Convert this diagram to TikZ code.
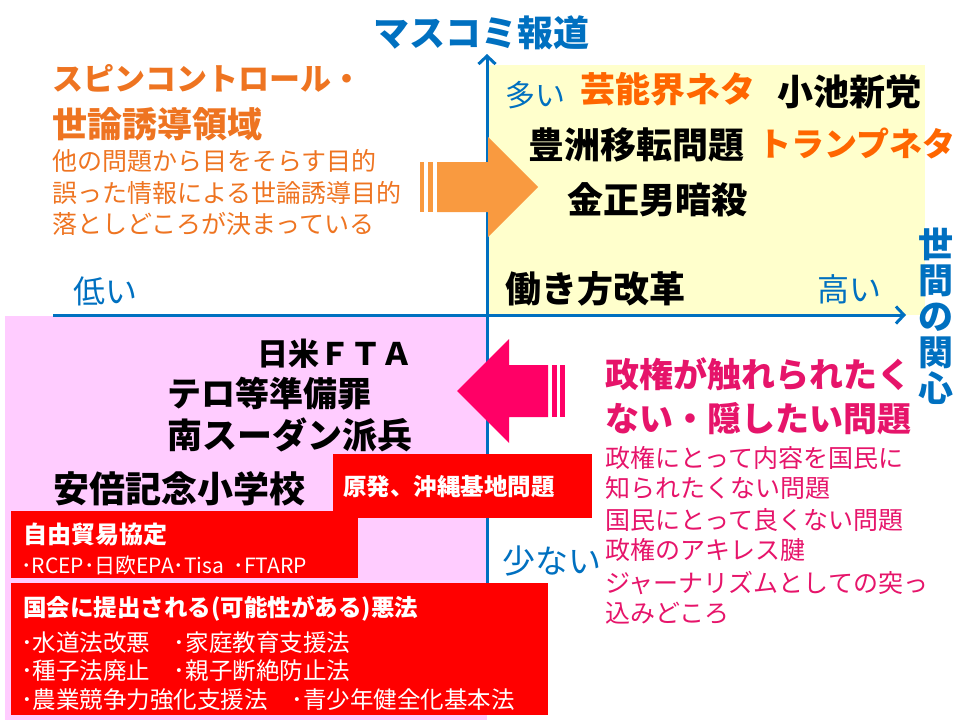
\documentclass[tikz,border=0pt]{standalone}
\usepackage{fontspec}
\setmainfont{Noto Sans CJK JP}
\usepackage{tikz}
\usetikzlibrary{arrows.meta,positioning}
\definecolor{mapBlue}{HTML}{0070C0}
\definecolor{quadYellow}{HTML}{FFFFCC}
\definecolor{quadPink}{HTML}{FFCCFF}
\definecolor{spinText}{HTML}{EE7421}
\definecolor{spinArrow}{HTML}{F99A40}
\definecolor{popOrange}{HTML}{FF6600}
\definecolor{hideText}{HTML}{E6146A}
\definecolor{hideArrow}{HTML}{FF0066}
\definecolor{boxRed}{HTML}{FF0000}
\newcommand{\jpsz}[1]{\fontsize{#1}{#1}\selectfont}
\tikzset{
  txt/.style={inner sep=0pt,anchor=west},
  axisline/.style={mapBlue,line width=3pt},
}

\begin{document}
\begin{tikzpicture}[x=1pt,y=-1pt,>={Straight Barb[length=8pt,width=17pt]}]
  \path[use as bounding box] (0,0) rectangle (960,720);

  % quadrants
  \fill[quadYellow] (488,65) rectangle (925,315);
  \fill[quadPink] (5,316) rectangle (487,720);

  % axes
  \coordinate (xlow) at (53,315);
  \coordinate (xhigh) at (906,315);
  \coordinate (ytop) at (487,54);
  \coordinate (ybot) at (487,712);
  \draw[axisline,->] (xlow) -- (xhigh);
  \draw[axisline,->] (ybot) -- (ytop);

  % block arrows
  \fill[spinArrow] (437,162) -- (488,162) -- (488,137) -- (538,187) -- (488,237) -- (488,212) -- (437,212) -- cycle;
  \fill[spinArrow] (420,162) rectangle (424,212);
  \fill[spinArrow] (428,162) rectangle (433,212);
  \fill[hideArrow] (548,365) -- (509,365) -- (509,339) -- (457,391) -- (509,443) -- (509,417) -- (548,417) -- cycle;
  \fill[hideArrow] (552,365) rectangle (557,417);
  \fill[hideArrow] (560,365) rectangle (565,417);

  % red boxes
  \fill[boxRed] (333,454) rectangle (592,518);
  \fill[boxRed] (11,511) rectangle (358,578);
  \fill[boxRed] (11,583) rectangle (548,715);

  % axis labels
  \node[txt,anchor=center,font=\bfseries\jpsz{36},text=mapBlue] (media) at (481,33) {マスコミ報道};
  \node[inner sep=0pt,align=center,font=\bfseries\fontsize{35}{36}\selectfont,text=mapBlue] (concern) at (936,316) {世\\間\\の\\関\\心};
  \node[txt,font=\jpsz{30},text=mapBlue] (many) at (505,95) {多い};
  \node[txt,font=\jpsz{33},text=mapBlue] (few) at (502,561) {少ない};
  \node[txt,font=\jpsz{32},text=mapBlue] (high) at (817,289) {高い};
  \node[txt,font=\jpsz{32},text=mapBlue] (low) at (73,291) {低い};

  % top left
  \node[txt,font=\bfseries\jpsz{31},text=spinText] (spin1) at (52,78) {スピンコントロール・};
  \node[txt,font=\bfseries\jpsz{35},text=spinText] (spin2) at (52,124) {世論誘導領域};
  \node[txt,font=\jpsz{25},text=spinText] (spin3) at (52,161) {他の問題から目をそらす目的};
  \node[txt,font=\jpsz{25},text=spinText] (spin4) at (52,193) {誤った情報による世論誘導目的};
  \node[txt,font=\jpsz{25},text=spinText] (spin5) at (52,224) {落としどころが決まっている};

  % top right
  \node[txt,font=\bfseries\jpsz{35},text=popOrange] (geino) at (580,89) {芸能界ネタ};
  \node[txt,font=\bfseries\jpsz{36}] (koike) at (777,92) {小池新党};
  \node[txt,font=\bfseries\jpsz{36}] (toyosu) at (528,145) {豊洲移転問題};
  \node[txt,font=\bfseries\jpsz{33},text=popOrange] (trump) at (758,143) {トランプネタ};
  \node[txt,font=\bfseries\jpsz{36}] (kim) at (567,200) {金正男暗殺};
  \node[txt,font=\bfseries\jpsz{36}] (work) at (505,289) {働き方改革};

  % bottom left
  \node[txt,anchor=east,font=\bfseries\jpsz{31}] (fta) at (413,354) {日米ＦＴＡ};
  \node[txt,font=\bfseries\jpsz{34}] (terror) at (167,394) {テロ等準備罪};
  \node[txt,font=\bfseries\jpsz{35}] (sudan) at (167,435) {南スーダン派兵};
  \node[txt,font=\bfseries\jpsz{36}] (abe) at (53,489) {安倍記念小学校};

  \node[txt,font=\bfseries\jpsz{23.5},text=white] (nuke) at (343,487) {原発、沖縄基地問題};
  \node[txt,font=\bfseries\jpsz{24},text=white] (trade) at (23,534) {自由貿易協定};
  \node[txt,font=\jpsz{21},text=white] (tradelist) at (21,565) {･RCEP･日欧EPA･Tisa \ ･FTARP};
  \node[txt,font=\bfseries\jpsz{23.5},text=white] (laws) at (23,609) {国会に提出される(可能性がある)悪法};
  \node[txt,font=\jpsz{23.5},text=white] (law1) at (21,643) {･水道法改悪　･家庭教育支援法};
  \node[txt,font=\jpsz{23.5},text=white] (law2) at (21,671) {･種子法廃止　･親子断絶防止法};
  \node[txt,font=\jpsz{23.5},text=white] (law3) at (21,700) {･農業競争力強化支援法　･青少年健全化基本法};

  % bottom right
  \node[txt,font=\bfseries\jpsz{34},text=hideText] (hide1) at (605,374) {政権が触れられたく};
  \node[txt,font=\bfseries\jpsz{34},text=hideText] (hide2) at (605,419) {ない・隠したい問題};
  \node[txt,font=\jpsz{25},text=hideText] (hide3) at (605,458) {政権にとって内容を国民に};
  \node[txt,font=\jpsz{25},text=hideText] (hide4) at (605,488) {知られたくない問題};
  \node[txt,font=\jpsz{25},text=hideText] (hide5) at (605,520) {国民にとって良くない問題};
  \node[txt,font=\jpsz{25},text=hideText] (hide6) at (605,550) {政権のアキレス腱};
  \node[txt,font=\jpsz{25},text=hideText] (hide7) at (605,583) {ジャーナリズムとしての突っ};
  \node[txt,font=\jpsz{25},text=hideText] (hide8) at (605,613) {込みどころ};
\end{tikzpicture}
\end{document}
